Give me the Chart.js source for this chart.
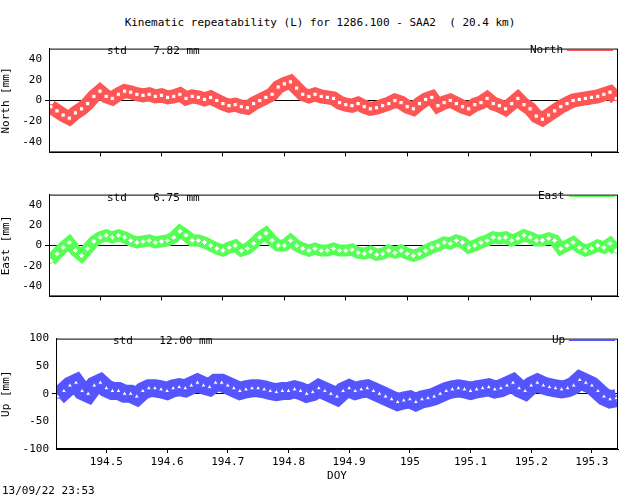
<!DOCTYPE html>
<html><head><meta charset="utf-8">
<script src="https://cdn.jsdelivr.net/npm/chart.js@4"></script>
<style>
body{margin:0;width:640px;height:496px;background:#fff;position:relative;font-family:"DejaVu Sans Mono",monospace;font-size:11px;color:#000;overflow:hidden}
canvas{position:absolute;left:0}
.t{position:absolute;white-space:pre}
.leg{position:absolute;white-space:pre;line-height:12px}
.leg i{position:absolute;left:100%;top:6px;width:46px;height:0;margin-left:4px}
</style></head><body>
<div class="t" style="left:0;width:640px;text-align:center;top:16px">Kinematic repeatability (L) for 1286.100 - SAA2  ( 20.4 km)</div>
<div style="position:absolute;left:0;top:39px;width:640px;height:123px"><canvas id="c1"></canvas></div>
<div style="position:absolute;left:0;top:185px;width:640px;height:121px"><canvas id="c2"></canvas></div>
<div style="position:absolute;left:0;top:329px;width:640px;height:158px"><canvas id="c3"></canvas></div>
<div class="t" style="left:107px;top:44px">std    7.82 mm</div>
<div class="t" style="left:107px;top:191px">std    6.75 mm</div>
<div class="t" style="left:113px;top:334px">std    12.00 mm</div>
<div class="leg" style="left:530px;top:44px">North<i style="border-top:1px solid #ff5555"></i></div>
<div class="leg" style="left:538px;top:190px">East<i style="border-top:1px solid #55ff55"></i></div>
<div class="leg" style="left:552px;top:334px">Up<i style="border-top:1px solid #5555ff"></i></div>
<div class="t" style="left:2px;top:484px">13/09/22 23:53</div>
<script>
const doy=[194.42,194.43,194.44,194.45,194.46,194.47,194.48,194.49,194.50,194.51,194.52,194.53,194.54,194.55,194.56,194.57,194.58,194.59,194.60,194.61,194.62,194.63,194.64,194.65,194.66,194.67,194.68,194.69,194.70,194.71,194.72,194.73,194.74,194.75,194.76,194.77,194.78,194.79,194.80,194.81,194.82,194.83,194.84,194.85,194.86,194.87,194.88,194.89,194.90,194.91,194.92,194.93,194.94,194.95,194.96,194.97,194.98,194.99,195.00,195.01,195.02,195.03,195.04,195.05,195.06,195.07,195.08,195.09,195.10,195.11,195.12,195.13,195.14,195.15,195.16,195.17,195.18,195.19,195.20,195.21,195.22,195.23,195.24,195.25,195.26,195.27,195.28,195.29,195.30,195.31,195.32,195.33,195.34];
const north=[-6,-10,-14,-17,-12,-8,-3,4,9,4,2,6,9,8,6,5,6,4,5,3,4,6,2,4,3,1,3,0,-3,-5,-4,-6,-7,-3,0,3,6,13,16,18,12,6,4,6,4,3,2,-2,-4,-5,-3,-6,-8,-7,-5,-3,0,-2,-6,-8,-3,1,3,-5,-2,0,-3,-6,-8,-4,-2,2,-3,-5,-8,-3,2,-4,-8,-15,-18,-14,-10,-6,-3,0,1,2,3,4,6,8,2];
const east=[-15,-8,-2,3,-5,-10,-3,4,8,10,8,10,8,5,3,4,5,3,4,5,8,14,10,5,5,3,0,-3,-5,-2,0,-5,-3,2,8,12,5,0,0,5,0,-3,-5,-3,-5,-5,-3,-5,-5,-4,-7,-8,-6,-9,-8,-5,-7,-5,-8,-10,-8,-5,-2,0,3,2,5,3,-2,0,3,5,8,7,8,5,7,10,8,5,5,7,5,-3,0,3,-2,-5,-3,0,-2,2,-5];
const up=[-5,5,15,20,5,0,15,20,10,5,5,0,0,-5,5,10,10,8,5,10,12,10,15,20,15,12,20,20,15,10,5,8,10,10,8,5,3,5,5,8,5,0,3,10,5,0,-5,5,10,5,8,10,5,0,-5,-10,-15,-12,-10,-15,-10,-8,-5,0,5,8,10,8,5,8,10,12,8,10,15,20,10,5,15,20,15,12,10,8,10,15,25,20,15,5,-5,-10,-8];
const xTicks=[194.5,194.6,194.7,194.8,194.9,195,195.1,195.2,195.3];
const yTicksNE=[-40,-20,0,20,40];
const yTicksU=[-100,-50,0,50,100];
const FONT={family:"DejaVu Sans Mono",size:11};
function mk(id,vals,color,ptStyle,ymin,ymax,yt,ytitle,leftW,showX,bw){
  new Chart(document.getElementById(id),{type:'line',
    data:{datasets:[{data:doy.map((d,i)=>({x:d,y:vals[i]})),borderColor:color,backgroundColor:color,borderWidth:bw,
      borderCapStyle:'butt',borderJoinStyle:'miter',pointStyle:ptStyle,pointRadius:3,pointBorderColor:color,pointBackgroundColor:'#fff',pointBorderWidth:1,tension:0}]},
    options:{responsive:true,maintainAspectRatio:false,animation:false,
      layout:{padding:{left:0,right:22,top:0,bottom:0}},
      plugins:{legend:{display:false},tooltip:{enabled:false}},
      scales:{
        x:{type:'linear',min:194.417,max:195.343,display:true,
          afterFit:s=>{s.height=showX?38:0;},
          afterBuildTicks:s=>{s.ticks=xTicks.map(v=>({value:v}));},
          ticks:{display:showX,color:'#000',font:FONT,maxRotation:0,autoSkip:false,callback:v=>String(v)},
          grid:{display:true,drawOnChartArea:false,color:'#000',tickLength:4},border:{color:'#000',width:1},
          title:{display:showX,text:'DOY',color:'#000',font:FONT,padding:{top:2}}},
        y:{type:'linear',min:ymin,max:ymax,afterFit:s=>{s.width=leftW;},
          afterBuildTicks:s=>{s.ticks=yt.map(v=>({value:v}));},
          ticks:{color:'#000',font:FONT,autoSkip:false,callback:v=>String(v)},
          grid:{color:c=>c.tick&&c.tick.value===0?'#000':'rgba(0,0,0,0)',lineWidth:1,tickLength:4,drawTicks:true},
          border:{color:'#000',width:1},
          title:{display:true,text:ytitle,color:'#000',font:FONT,padding:0}}
      }},
    plugins:[{id:'box',afterDraw(c){const a=c.chartArea,x=c.ctx;x.save();x.strokeStyle='#000';x.lineWidth=1;x.strokeRect(a.left+.5,a.top+.5,a.width-1,a.height-1);x.restore();}}]
  });
}
mk('c1',north,'#ff5555','rect',-50,50,yTicksNE,'North [mm]',49,false,14);
mk('c2',east,'#55ff55','rectRot',-50,50,yTicksNE,'East [mm]',49,false,12);
mk('c3',up,'#5555ff','triangle',-100,100,yTicksU,'Up [mm]',56,true,18);
</script></body></html>
